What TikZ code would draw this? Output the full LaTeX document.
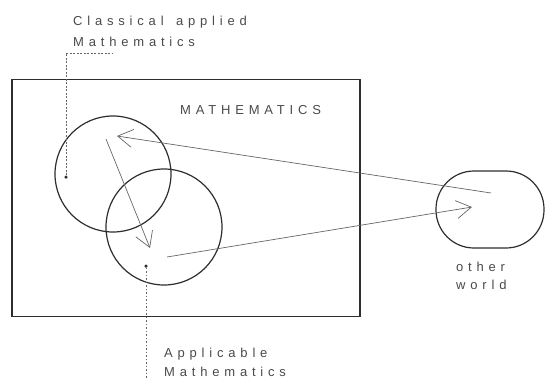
\documentclass[tikz,border=0pt]{standalone}
\usepackage{fontspec}
\setmainfont{Liberation Sans}
\newfontfamily\spaced[LetterSpace=37]{Liberation Sans}
\usetikzlibrary{arrows.meta}
\definecolor{ink}{HTML}{2E2E2E}
\definecolor{pen}{HTML}{666666}
\definecolor{txt}{HTML}{4A4A4A}
\tikzset{
  lbl/.style={font=\spaced\fontsize{13}{15}\selectfont, text=txt, inner sep=0pt, anchor=base west},
  ring/.style={circle, draw=ink, line width=1.2pt, minimum size=116pt, inner sep=0pt},
  flow/.style={draw=pen, line width=0.7pt, -{Straight Barb[length=15pt,width=18pt,line width=0.7pt]}},
  dotmark/.style={circle, fill=ink, inner sep=0pt, minimum size=3.5pt},
  leader/.style={draw=pen, line width=0.5pt, dash pattern=on 2pt off 1.5pt}
}
\begin{document}
\begin{tikzpicture}[x=1pt,y=-1pt]
\useasboundingbox (0,0) rectangle (546,378);
% main rectangle
\node[draw=ink, line width=1.7pt, minimum width=348pt, minimum height=237pt, inner sep=0pt] (math) at (186,198) {};
\node[lbl] (mathlbl) at (180,114) {MATHEMATICS};
% circles
\node[ring] (c1) at (113,174) {};
\node[ring] (c2) at (164,227) {};
% other world
\node[draw=ink, line width=1.2pt, minimum width=108pt, minimum height=77pt, rounded corners=38pt, inner sep=0pt] (ow) at (490,209.5) {};
\node[lbl] (owl1) at (456,271) {other};
\node[lbl] (owl2) at (456,289) {world};
% dots
\node[dotmark] (d1) at (66,177) {};
\node[dotmark] (d2) at (146,266) {};
% labels
\node[lbl] (cl1) at (73,25) {Classical\hspace{4pt} applied};
\node[lbl] (cl2) at (73,46) {Mathematics};
\node[lbl] (ap1) at (164,357) {Applicable};
\node[lbl] (ap2) at (164,376) {Mathematics};
% leaders
\coordinate (k1) at (66,53);
\coordinate (k2) at (113,53);
\coordinate (k3) at (146,378);
\draw[leader] (d1) -- (k1) -- (k2);
\draw[leader, dash pattern=on 1.5pt off 2pt] (d2) -- (k3);
% arrows
\coordinate (a1s) at (491,193);
\coordinate (a1e) at (117,136);
\coordinate (a2s) at (106,139);
\coordinate (a2e) at (150,248);
\coordinate (a3s) at (167,257);
\coordinate (a3e) at (472,207);
\draw[flow] (a1s) -- (a1e);
\draw[flow] (a2s) -- (a2e);
\draw[flow] (a3s) -- (a3e);
\end{tikzpicture}
\end{document}
